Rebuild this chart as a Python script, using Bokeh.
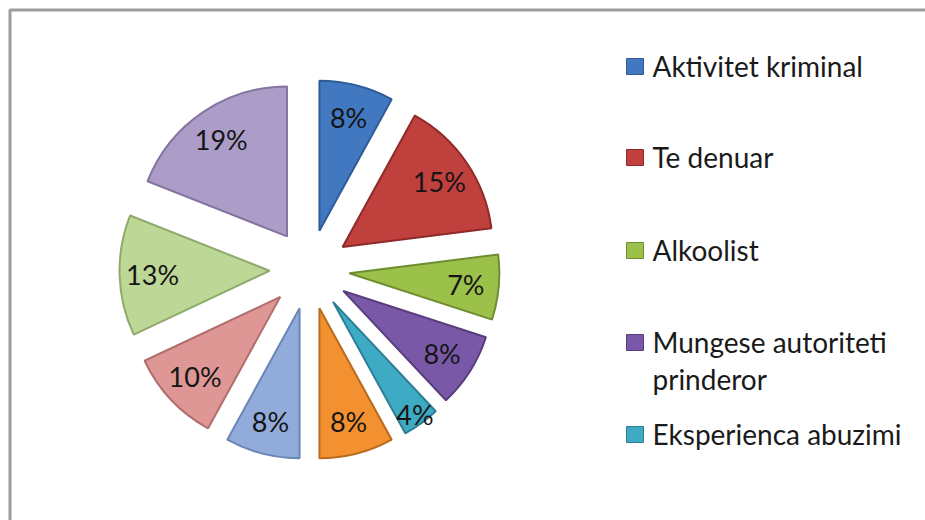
import numpy as np
from bokeh.plotting import figure
from bokeh.models import ColumnDataSource, Range1d
from bokeh.core.properties import value
from bokeh.embed import file_html
from bokeh.resources import INLINE

# ---- data ----
shares = [8, 15, 7, 8, 4, 8, 8, 10, 13, 19]
slice_labels = ["8%", "15%", "7%", "8%", "4%", "8%", "8%", "10%", "13%", "19%"]
legend_names = ["Aktivitet kriminal", "Te denuar", "Alkoolist",
                "Mungese autoriteti\nprinderor", "Eksperienca abuzimi"]
fill_colors = ["#4178C0", "#C0403E", "#9BC14B", "#7A58A8", "#3FAAC4",
               "#F39130", "#91ACDB", "#DF9796", "#BCD796", "#AB9CC8"]
edge_colors = ["#2E5C99", "#8E2A28", "#6F8E32", "#583E7E", "#2A7F95",
               "#B96A1E", "#6A86B5", "#B06E6D", "#8FAA6C", "#8474A0"]

W, H = 925, 520
p = figure(width=W, height=H, output_backend="svg", toolbar_location=None,
           x_range=Range1d(0, W), y_range=Range1d(0, H),
           x_axis_location=None, y_axis_location=None, min_border=0,
           tools="")
p.grid.visible = False
p.outline_line_color = None
p.background_fill_color = "white"
p.border_fill_color = "white"

# frame border (chart area edge)
p.quad(left=9.5, right=W + 50, top=H - 9.5, bottom=-50, fill_color=None,
       line_color="#9c9c9c", line_width=3)

# ---- pie geometry ----
cx, cy = 309, H - 269
R = 150
explode = 40
vals = np.array(shares, dtype=float)
frac = vals / vals.sum()
cum_end = np.cumsum(frac)
cum_start = cum_end - frac
start = np.pi / 2 - 2 * np.pi * cum_start
end = np.pi / 2 - 2 * np.pi * cum_end
mid = (start + end) / 2
wx = cx + explode * np.cos(mid)
wy = cy + explode * np.sin(mid)
lfrac = np.where(frac < 0.05, 0.93, 0.78)   # thin slices: label nearer the rim
lr = explode + lfrac * R
lx = cx + lr * np.cos(mid)
ly = cy + lr * np.sin(mid)

src = ColumnDataSource(dict(x=wx, y=wy, start=start, end=end,
                            fill=fill_colors, edge=edge_colors,
                            lx=lx, ly=ly, lab=slice_labels))
p.wedge(x="x", y="y", radius=R, start_angle="start", end_angle="end",
        direction="clock", fill_color="fill", line_color="edge",
        line_width=2, source=src)
p.text(x="lx", y="ly", text="lab", source=src, text_align="center",
       text_baseline="middle", text_font=value("Lato"),
       text_font_size="27px", text_color="#151515")

# ---- legend ----
leg_y = [66, 157, 250, 342, 434]
line_gap = 37
p.rect(x=[634.5] * 5, y=[H - v for v in leg_y], width=17, height=16,
       fill_color=fill_colors[:5], line_color=edge_colors[:5], line_width=1)
tx, ty, tt = [], [], []
for name, yy in zip(legend_names, leg_y):
    for k, line in enumerate(name.split("\n")):
        tx.append(652)
        ty.append(H - (yy + k * line_gap) + 1)
        tt.append(line)
p.text(x=tx, y=ty, text=tt, text_align="left", text_baseline="middle",
       text_font=value("Lato"), text_font_size="28px", text_color="#1a1a1a")

open("out.html", "w").write(file_html(p, INLINE))
